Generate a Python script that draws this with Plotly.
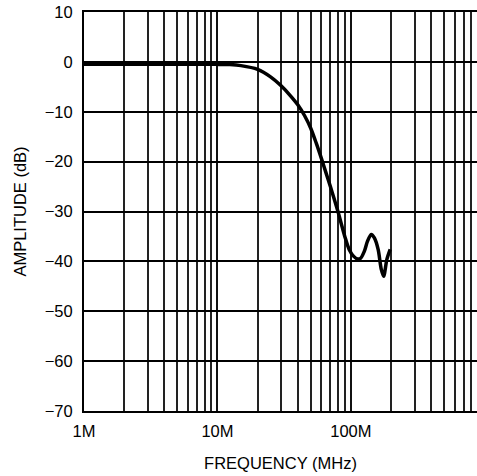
import plotly.graph_objects as go

# Frequency response data (frequency in MHz, amplitude in dB)
freq_mhz = [1, 5, 10, 12.4, 15, 20, 25, 30, 35, 40, 45, 50, 55, 60, 65, 70, 75,
            80, 85, 90, 97, 105, 112, 118, 126, 133, 142, 150, 160, 169, 176, 186, 197]
amp_db = [-0.5, -0.5, -0.5, -0.55, -0.75, -1.5, -3.0, -4.8, -6.7, -8.6, -10.8,
          -13.3, -16.3, -19.3, -22.2, -24.9, -27.5, -30.0, -32.6, -35.0, -37.6,
          -39.0, -39.5, -39.4, -38.0, -36.0, -34.6, -35.3, -37.6, -41.6, -43.0,
          -39.6, -37.6]

x_tick_vals_mhz = [1, 10, 100]
x_tick_text = ["1M", "10M", "100M"]
y_tick_vals = [10, 0, -10, -20, -30, -40, -50, -60, -70]

freq_hz = [f * 1e6 for f in freq_mhz]
x_tick_vals = [v * 1e6 for v in x_tick_vals_mhz]

FONT = "Liberation Sans, Arial, Helvetica, sans-serif"

fig = go.Figure()
fig.add_trace(go.Scatter(
    x=freq_hz, y=amp_db, mode="lines",
    line=dict(color="black", width=3.5, shape="spline", smoothing=0.8),
    hoverinfo="skip", showlegend=False,
))

fig.update_layout(
    width=477, height=476,
    margin=dict(l=84, r=0, t=12, b=65),
    paper_bgcolor="white", plot_bgcolor="white",
    font=dict(family=FONT, size=16.5, color="black"),
    showlegend=False,
)

fig.update_xaxes(
    type="log",
    range=[6, 8.945],
    tickvals=x_tick_vals, ticktext=x_tick_text,
    showgrid=True, gridcolor="#111111", gridwidth=1.5,
    minor=dict(dtick="D1", showgrid=True, gridcolor="#222222", gridwidth=1.5, ticks=""),
    showline=True, linecolor="black", linewidth=2, mirror=True,
    ticks="", ticklabelstandoff=4,
    zeroline=False,
    tickfont=dict(size=16.5),
    title=dict(text="FREQUENCY (MHz)", font=dict(size=16.5), standoff=19),
)

fig.update_yaxes(
    range=[-70, 10],
    tickvals=y_tick_vals,
    showgrid=True, gridcolor="black", gridwidth=1.6,
    showline=True, linecolor="black", linewidth=2, mirror=False,
    ticks="", ticklabelstandoff=6,
    zeroline=False,
    tickfont=dict(size=16.5),
    title=dict(text="AMPLITUDE (dB)", font=dict(size=16.5), standoff=14),
)

fig.write_html(
    "out.html",
    config={"displayModeBar": False},
    post_script="document.body.style.margin='0px';document.body.style.overflow='hidden';",
)
